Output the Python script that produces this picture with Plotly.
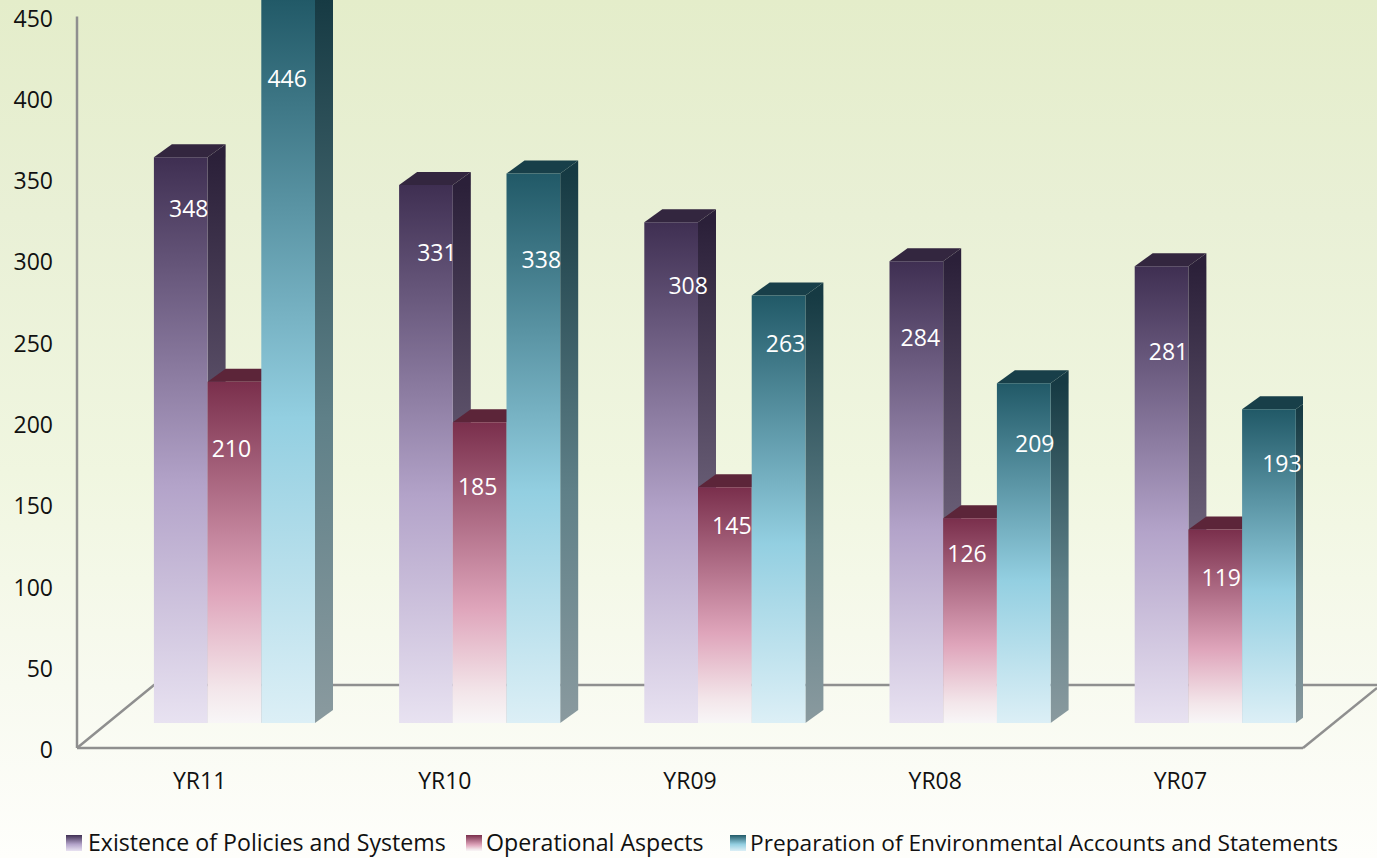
import plotly.graph_objects as go

# ---- data ----
CATEGORIES = ["YR11", "YR10", "YR09", "YR08", "YR07"]
EXISTENCE = [348, 331, 308, 284, 281]
OPERATIONAL = [210, 185, 145, 126, 119]
PREPARATION = [446, 338, 263, 209, 193]
SERIES_NAMES = ["Existence of Policies and Systems", "Operational Aspects",
                "Preparation of Environmental Accounts and Statements"]
Y_TICKS = [0, 50, 100, 150, 200, 250, 300, 350, 400, 450]

# manual data-label placement in the source (pixels from bar centre / bar top)
LABEL_DX = [[8, 11, 17, 4, 7], [-3, -2, 7, -3, 6], [-1, 8, 7, 11, 13]]
LABEL_DROP = [[54, 70, 66, 79, 88], [70, 67, 41, 38, 51], [83, 89, 51, 63, 57]]

# ---- layout geometry ----
W, H = 1377, 858
AX_L, AX_R, AX_B, AX_T = 77, 1303, 748, 16.5
PX_X = (AX_R - AX_L) / len(CATEGORIES)      # pixels per category
PX_Y = (AX_B - AX_T) / 450                  # pixels per value unit
BASE = 25 / PX_Y                            # lift of bars above the front floor edge
BAR_W = 53.7 / PX_X
LEFT = -45.7 / PX_X
DEPTH_X = 18 / PX_X
DEPTH_Y = 13 / PX_Y

STYLES = [
    dict(front=[[0, "#e8e2f1"], [0.42, "#b3a3c9"], [1, "#3f2f52"]],
         side=[[0, "#8d8894"], [0.42, "#6b6078"], [1, "#2b2039"]], top="#33263f"),
    dict(front=[[0, "#f8f6f7"], [0.1, "#f3e6ea"], [0.38, "#dfa5bb"], [1, "#7a2f4c"]],
         side=[[0, "#98858d"], [0.42, "#85606f"], [1, "#4f2033"]], top="#5c2539"),
    dict(front=[[0, "#dceff6"], [0.42, "#93cfe1"], [1, "#215967"]],
         side=[[0, "#8a9a9f"], [0.42, "#5f8088"], [1, "#163a43"]], top="#183f49"),
]
AXIS_GREY = "#8f8f8f"
FONT = "Open Sans"
FS = 23

fig = go.Figure()

# ---- page background and floor, in a full-page pixel subplot ----
fig.add_trace(go.Scatter(
    x=[0, W, W, 0, 0], y=[0, 0, H, H, 0], mode="none", fill="toself", hoverinfo="skip",
    showlegend=False,
    fillgradient=dict(type="vertical", start=H, stop=0,
                      colorscale=[[0, "#fefefb"], [0.2, "#f8faf0"], [0.45, "#f0f6e0"],
                                  [0.75, "#e9f0d6"], [1, "#e4edca"]])))
fig.add_trace(go.Scatter(
    x=[AX_L, 154, 1377, None, AX_R, 1377, None, AX_L, AX_L, None, AX_L, AX_R],
    y=[AX_B, 685, 685, None, AX_B, 688, None, AX_B, AX_T, None, AX_B, AX_B],
    mode="lines", line=dict(color=AXIS_GREY, width=2.5), hoverinfo="skip", showlegend=False))

# ---- bars ----
VALUES = [EXISTENCE, OPERATIONAL, PREPARATION]
common = dict(xaxis="x2", yaxis="y2", hoverinfo="skip", showlegend=False, cliponaxis=False)
for c, cat in enumerate(CATEGORIES):
    for s, vals in enumerate(VALUES):
        st = STYLES[s]
        v = vals[c]
        x0 = c + LEFT + s * BAR_W
        x1 = x0 + BAR_W
        y0 = BASE
        y1 = BASE + v
        # right side face
        fig.add_trace(go.Scatter(
            x=[x1, x1 + DEPTH_X, x1 + DEPTH_X, x1, x1],
            y=[y0, y0 + DEPTH_Y, y1 + DEPTH_Y, y1, y0],
            mode="none", fill="toself",
            fillgradient=dict(type="vertical", start=y0, stop=y1, colorscale=st["side"]), **common))
        # top face
        fig.add_trace(go.Scatter(
            x=[x0, x0 + DEPTH_X, x1 + DEPTH_X, x1, x0],
            y=[y1, y1 + DEPTH_Y, y1 + DEPTH_Y, y1, y1],
            mode="none", fill="toself", fillcolor=st["top"], **common))
        # front face
        fig.add_trace(go.Scatter(
            x=[x0, x1, x1, x0, x0], y=[y0, y0, y1, y1, y0],
            mode="none", fill="toself", name=SERIES_NAMES[s],
            fillgradient=dict(type="vertical", start=y0, stop=y1, colorscale=st["front"]), **common))

# ---- data labels ----
lx, ly, lt = [], [], []
for s, vals in enumerate(VALUES):
    for c, v in enumerate(vals):
        lx.append(c + LEFT + (s + 0.5) * BAR_W + LABEL_DX[s][c] / PX_X)
        ly.append(BASE + v - LABEL_DROP[s][c] / PX_Y)
        lt.append(str(v))
fig.add_trace(go.Scatter(
    x=lx, y=ly, text=lt, mode="text", xaxis="x2", yaxis="y2", cliponaxis=False,
    textposition="middle center", textfont=dict(family=FONT, size=FS, color="white"),
    hoverinfo="skip", showlegend=False))

# ---- hand-placed legend, as in the source (third full-page subplot, y measured from the bottom) ----
LEG_SWATCH_X = [66, 466, 730]
LEG_TEXT_X = [86, 484, 748]
LEG_SIZE = [23.15, 23.15, 22.7]
for s, name in enumerate(SERIES_NAMES):
    sx = LEG_SWATCH_X[s]
    ya, yb = H - 851, H - 835
    fig.add_trace(go.Scatter(
        x=[sx, sx + 16, sx + 16, sx, sx], y=[ya, ya, yb, yb, ya],
        mode="none", fill="toself", hoverinfo="skip", showlegend=False, xaxis="x3", yaxis="y3",
        fillgradient=dict(type="vertical", start=ya, stop=yb, colorscale=STYLES[s]["front"])))
    fig.add_annotation(x=LEG_TEXT_X[s], y=H - 842.3, xref="x3", yref="y3", text=name, showarrow=False,
                       xanchor="left", yanchor="middle",
                       font=dict(family=FONT, size=LEG_SIZE[s], color="#111111"))

fig.update_layout(
    width=W, height=H, margin=dict(l=0, r=0, t=0, b=0, autoexpand=False),
    paper_bgcolor="white", plot_bgcolor="rgba(0,0,0,0)", showlegend=False,
    xaxis=dict(domain=[0, 1], range=[0, W], visible=False, fixedrange=True),
    yaxis=dict(domain=[0, 1], range=[H, 0], visible=False, fixedrange=True),
    xaxis3=dict(domain=[0, 1], range=[0, W], visible=False, fixedrange=True, anchor="y3"),
    yaxis3=dict(domain=[0, 1], range=[0, H], visible=False, fixedrange=True, anchor="x3"),
    xaxis2=dict(domain=[AX_L / W, AX_R / W], range=[-0.5, len(CATEGORIES) - 0.5], anchor="y2",
                tickmode="array", tickvals=list(range(len(CATEGORIES))), ticktext=CATEGORIES,
                showgrid=False, zeroline=False, showline=False, fixedrange=True,
                ticks="", ticklabelstandoff=17, ticklabeloverflow="allow",
                tickfont=dict(family=FONT, size=FS, color="#111111")),
    # the value axis runs on to the top of the page so that the tallest bar is only cut by the page
    yaxis2=dict(domain=[(H - AX_B) / H, 1], range=[0, AX_B / PX_Y], anchor="x2",
                tickmode="array", tickvals=Y_TICKS, ticktext=[str(t) for t in Y_TICKS],
                showgrid=False, zeroline=False, showline=False, fixedrange=True,
                ticks="", ticklabelstandoff=23, ticklabelshift=2, ticklabeloverflow="allow",
                tickfont=dict(family=FONT, size=FS, color="#111111")),
)
fig.write_html("out.html", config={"displayModeBar": False},
               post_script="document.body.style.margin='0';")
